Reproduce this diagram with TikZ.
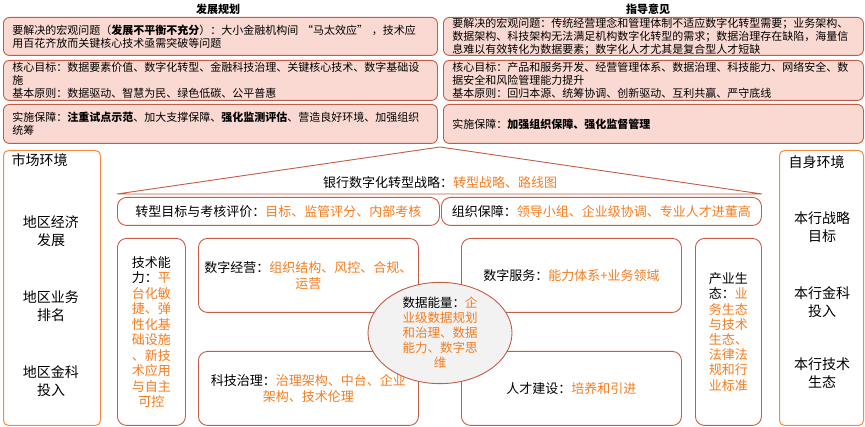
\documentclass[tikz,border=0pt]{standalone}
\usepackage{fontspec}
\setmainfont{Noto Sans CJK SC}
\usetikzlibrary{shapes.geometric}

\definecolor{boxline}{RGB}{196,92,70}
\definecolor{boxfill}{RGB}{249,217,209}
\definecolor{hlorange}{RGB}{245,125,32}
\definecolor{envorange}{RGB}{246,140,60}
\definecolor{ellfill}{RGB}{242,242,242}
\newcommand{\org}[1]{\textcolor{hlorange}{#1}}

\begin{document}
\begin{tikzpicture}[x=1pt, y=-1pt,
  topbox/.style={draw=boxline, fill=boxfill, line width=0.9pt, rounded corners=6pt,
    anchor=north west, inner xsep=9pt, inner ysep=0pt, align=left,
    font=\fontsize{11}{12.8}\selectfont},
  midbox/.style={draw=boxline, fill=white, line width=0.9pt, rounded corners=9pt,
    anchor=north west, inner sep=0pt, align=center, font=\fontsize{13}{16}\selectfont},
  envbox/.style={draw=envorange, line width=1pt, rounded corners=5pt,
    anchor=north west, inner sep=0pt},
  envtext/.style={align=center, font=\fontsize{14}{18}\selectfont}]
  \useasboundingbox (0,0) rectangle (865,427);

  % TOP: two policy documents
  \node[font=\bfseries\fontsize{11}{13}\selectfont] (fzgh) at (218,9) {发展规划};
  \node[font=\bfseries\fontsize{11}{13}\selectfont] (zdyj) at (648,9) {指导意见};

  \node[topbox, text width=416pt, minimum height=38pt] (fz1) at (3,17)
    {要解决的宏观问题（\textbf{发展不平衡不充分}）：大小金融机构间 “马太效应” ，技术应\\用百花齐放而关键核心技术亟需突破等问题};
  \node[topbox, text width=416pt, minimum height=40pt] (fz2) at (3,60)
    {核心目标：数据要素价值、数字化转型、金融科技治理、关键核心技术、数字基础设\\施\\基本原则：数据驱动、智慧为民、绿色低碳、公平普惠};
  \node[topbox, text width=416pt, minimum height=39pt] (fz3) at (3,104)
    {实施保障：\textbf{注重试点示范}、加大支撑保障、\textbf{强化监测评估}、营造良好环境、加强组织\\统筹};

  \node[topbox, text width=402pt, minimum height=38pt] (zd1) at (443,17)
    {要解决的宏观问题：传统经营理念和管理体制不适应数字化转型需要；业务架构、\\数据架构、科技架构无法满足机构数字化转型的需求；数据治理存在缺陷，海量信\\息难以有效转化为数据要素；数字化人才尤其是复合型人才短缺};
  \node[topbox, text width=402pt, minimum height=40pt] (zd2) at (443,60)
    {核心目标：产品和服务开发、经营管理体系、数据治理、科技能力、网络安全、数\\据安全和风险管理能力提升\\基本原则：回归本源、统筹协调、创新驱动、互利共赢、严守底线};
  \node[topbox, text width=402pt, minimum height=39pt] (zd3) at (443,104)
    {实施保障：\textbf{加强组织保障、强化监督管理}};

  % LEFT / RIGHT: environments
  \node[envbox, minimum width=97pt, minimum height=275pt] (scbox) at (3,150) {};
  \node[font=\fontsize{14}{18}\selectfont, anchor=west] (schj) at (8,160) {市场环境};
  \node[envtext] (dq1) at (51,231) {地区经济\\发展};
  \node[envtext] (dq2) at (51,306) {地区业务\\排名};
  \node[envtext] (dq3) at (51,381) {地区金科\\投入};

  \node[envbox, minimum width=84pt, minimum height=275pt] (zsbox) at (779,150) {};
  \node[font=\fontsize{14}{18}\selectfont, anchor=west] (zshj) at (785,162) {自身环境};
  \node[envtext] (bh1) at (822,227) {本行战略\\目标};
  \node[envtext] (bh2) at (822,302) {本行金科\\投入};
  \node[envtext] (bh3) at (822,373) {本行技术\\生态};

  % MIDDLE: the house
  \coordinate (roofL) at (117,194);
  \coordinate (roofT) at (440,147);
  \coordinate (roofR) at (762,194);
  \draw[boxline, line width=0.9pt] (roofL) -- (roofT) -- (roofR) -- cycle;
  \node[font=\fontsize{13}{15}\selectfont] (zlue) at (440,183)
    {银行数字化转型战略：\org{转型战略、路线图}};

  \node[midbox, minimum width=322pt, minimum height=28pt] (kh) at (117,197)
    {转型目标与考核评价：\org{目标、监管评分、内部考核}};
  \node[midbox, minimum width=320pt, minimum height=28pt] (zz) at (441,197)
    {组织保障：\org{领导小组、企业级协调、专业人才进董高}};

  \node[midbox, font=\fontsize{13}{15.5}\selectfont, minimum width=68pt, minimum height=187pt] (jsnl) at (117,238)
    {技术能\\力：\org{平}\\\org{台化敏}\\\org{捷、弹}\\\org{性化基}\\\org{础设施}\\\org{、新技}\\\org{术应用}\\\org{与自主}\\\org{可控}};
  \node[midbox, minimum width=220pt, minimum height=74pt] (szjy) at (198,238)
    {数字经营：\org{组织结构、风控、合规、}\\\org{运营}};
  \node[midbox, minimum width=220pt, minimum height=74pt] (kjzl) at (198,351)
    {科技治理：\org{治理架构、中台、企业}\\\org{架构、技术伦理}};
  \node[midbox, minimum width=220pt, minimum height=74pt] (szfw) at (461,238)
    {数字服务：\org{能力体系+业务领域}};
  \node[midbox, minimum width=220pt, minimum height=74pt] (rcjs) at (461,351)
    {人才建设：\org{培养和引进}};
  \node[midbox, font=\fontsize{13}{15.2}\selectfont, minimum width=66pt, minimum height=187pt] (cyst) at (695,238)
    {产业生\\态：\org{业}\\\org{务生态}\\\org{与技术}\\\org{生态、}\\\org{法律法}\\\org{规和行}\\\org{业标准}};

  % centre: data energy
  \node[ellipse, draw=boxline, fill=ellfill, line width=0.9pt, minimum width=144pt, minimum height=100pt,
    inner sep=0pt, align=center, font=\fontsize{12.5}{15}\selectfont] (sjnl) at (440,333)
    {数据能量：\org{企}\\\org{业级数据规划}\\\org{和治理、数据}\\\org{能力、数字思}\\\org{维}};
\end{tikzpicture}
\end{document}
